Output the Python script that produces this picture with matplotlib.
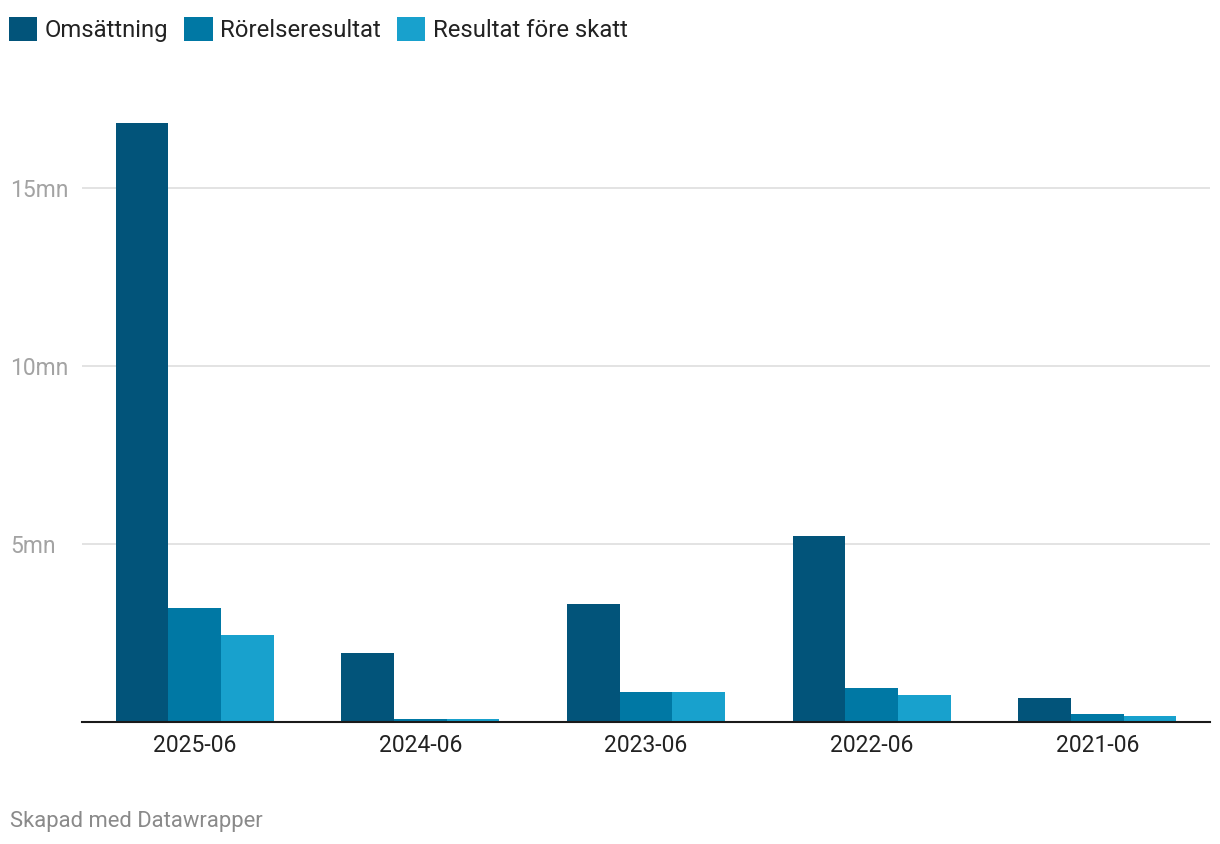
import numpy as np
import matplotlib
matplotlib.use("Agg")
from matplotlib import pyplot as plt

plt.rcParams['font.family'] = ['Roboto', 'DejaVu Sans']

periods = ["2025-06", "2024-06", "2023-06", "2022-06", "2021-06"]
series = ["Omsättning", "Rörelseresultat", "Resultat före skatt"]
omsattning = [16.83, 1.94, 3.31, 5.22, 0.67]
rorelseresultat = [3.20, 0.08, 0.84, 0.96, 0.22]
resultat_fore_skatt = [2.44, 0.08, 0.84, 0.76, 0.17]
yticks = [5, 10, 15]
ytick_labels = ["5mn", "10mn", "15mn"]

colors = ["#02547a", "#0078a4", "#18a1cd"]

W, H = 1220, 844
fig = plt.figure(figsize=(W / 100, H / 100), dpi=100)
ax = fig.add_axes([82 / W, 1 - 722 / H, (1210 - 82) / W, (722 - 116.8) / H])

x = np.arange(len(periods))
bw = 0.7 / 3
values = [omsattning, rorelseresultat, resultat_fore_skatt]
handles = []
for i, (name, vals) in enumerate(zip(series, values)):
    b = ax.bar(x + (i - 1) * bw, vals, width=bw, color=colors[i], label=name, zorder=3)
    handles.append(b)

ax.set_xlim(-0.5, len(periods) - 0.5)
ax.set_ylim(0, 17)
ax.set_yticks(yticks)
ax.set_yticklabels(ytick_labels)
ax.set_xticks(x)
ax.set_xticklabels(periods)

for s in ["top", "right", "left"]:
    ax.spines[s].set_visible(False)
ax.spines["bottom"].set_color("#1a1a1a")
ax.spines["bottom"].set_linewidth(1.5)
ax.spines["bottom"].set_zorder(4)

ax.grid(axis="y", color="#e3e3e3", linewidth=1.4, zorder=0)
ax.tick_params(axis="y", length=0, pad=51.8, labelsize=16.5, labelcolor="#a3a3a3")
for t in ax.get_yticklabels():
    t.set_horizontalalignment("left")
ax.tick_params(axis="x", length=0, pad=9, labelsize=16.5, labelcolor="#222222")

ax.legend(handles=handles, ncol=3, loc="upper left", bbox_to_anchor=(4 / W, 1 - 12 / H),
          bbox_transform=fig.transFigure, frameon=False, fontsize=17.2,
          handlelength=1.18, handleheight=1.18, handletextpad=0.3,
          columnspacing=0.7, borderaxespad=0, borderpad=0.2,
          labelcolor="#222222")

fig.text(10 / W, 1 - 821 / H, "Skapad med Datawrapper", fontsize=15.8, color="#8a8a8a",
         ha="left", va="center")

fig.savefig("out.png", dpi=100, facecolor="white")
